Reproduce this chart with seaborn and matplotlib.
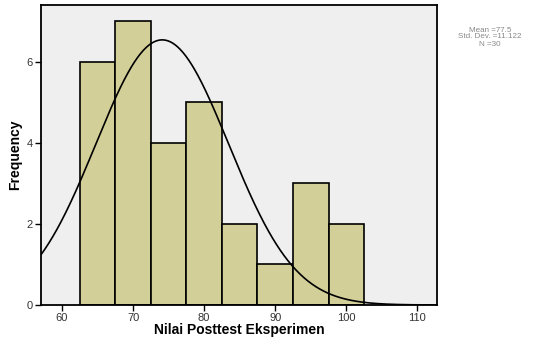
import numpy as np
import pandas as pd
import matplotlib
matplotlib.use("Agg")
import matplotlib.pyplot as plt
import seaborn as sns

# Data
bin_edges = [62.5, 67.5, 72.5, 77.5, 82.5, 87.5, 92.5, 97.5, 102.5]
bin_mids = [65, 70, 75, 80, 85, 90, 95, 100]
counts = [6, 7, 4, 5, 2, 1, 3, 2]
curve_mean = 74.1
curve_sd = 9.35
curve_peak = 6.54
x_ticks = [60, 70, 80, 90, 100, 110]
y_ticks = [0, 2, 4, 6]
stats_lines = ["Mean =77.5", "Std. Dev. =11.122", "N =30"]

sns.set_theme(style="white")
plt.rcParams['font.family'] = ['Liberation Sans', 'DejaVu Sans']

df = pd.DataFrame({"Nilai Posttest Eksperimen": np.repeat(bin_mids, counts)})

fig = plt.figure(figsize=(5.47, 3.40), dpi=100)
ax = fig.add_axes([41/547, 1 - 305/340, (437 - 41)/547, (305 - 5)/340])
ax.set_facecolor("#EFEFEF")

sns.histplot(data=df, x="Nilai Posttest Eksperimen", bins=bin_edges, ax=ax,
             color="#D3CF98", alpha=1, edgecolor="black", linewidth=1.2)

xlo, xhi = 57.05, 112.75
xs = np.linspace(xlo, xhi, 400)
ys = curve_peak * np.exp(-0.5 * ((xs - curve_mean) / curve_sd) ** 2)
sns.lineplot(x=xs, y=ys, ax=ax, color="black", linewidth=1.2)

ax.set_xlim(xlo, xhi)
ax.set_ylim(0, 7.4)
ax.set_xticks(x_ticks)
ax.set_yticks(y_ticks)
ax.tick_params(axis="both", direction="out", length=4, width=1, colors="black",
               labelsize=8, pad=2, bottom=True, left=True)
for lab in ax.get_xticklabels() + ax.get_yticklabels():
    lab.set_color("#333333")
for s in ax.spines.values():
    s.set_color("black")
    s.set_linewidth(1.3)
ax.set_xlabel("Nilai Posttest Eksperimen", fontsize=10, fontweight="bold",
              labelpad=0, color="black")
ax.set_ylabel("Frequency", fontsize=10, fontweight="bold", labelpad=3,
              color="black")

fig.text(490/547, 1 - 37/340, "\n".join(stats_lines), ha="center", va="center",
         fontsize=5.8, color="#888888", linespacing=1.0)

fig.savefig("out.png", dpi=100, facecolor="white")
